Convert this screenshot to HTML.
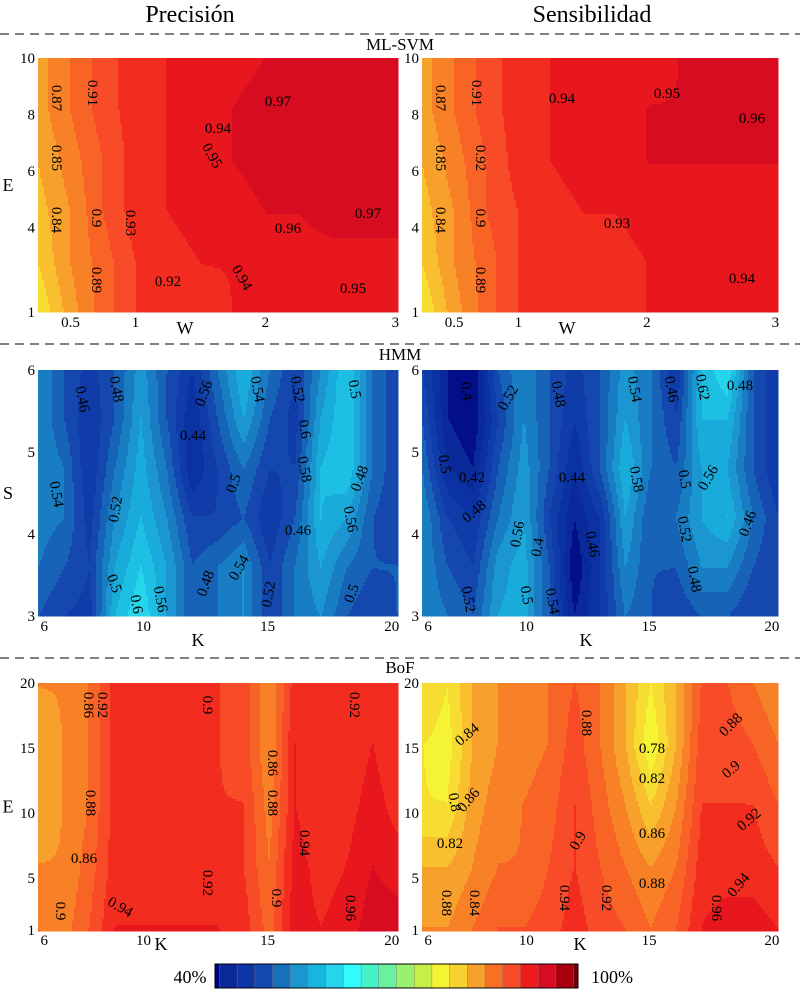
<!DOCTYPE html>
<html><head><meta charset="utf-8">
<style>
body{margin:0;background:#fff;}
svg{display:block;font-family:"Liberation Serif",serif;}
</style></head>
<body>
<svg id="fig" width="800" height="997" viewBox="0 0 800 997" xmlns="http://www.w3.org/2000/svg">
<text x="190" y="22" font-size="24" text-anchor="middle">Precisión</text>
<text x="592" y="22" font-size="24" text-anchor="middle">Sensibilidad</text>
<line x1="0" y1="34" x2="800" y2="34" stroke="#000" stroke-dasharray="9,6"/>
<text x="400" y="50" font-size="17" text-anchor="middle">ML-SVM</text>
<line x1="0" y1="344" x2="800" y2="344" stroke="#000" stroke-dasharray="9,6"/>
<text x="400" y="360" font-size="17" text-anchor="middle">HMM</text>
<line x1="0" y1="658" x2="800" y2="658" stroke="#000" stroke-dasharray="9,6"/>
<text x="400" y="673" font-size="17" text-anchor="middle">BoF</text>
<g id="panels"></g>
<g id="colorbar"></g>
</svg>
<script>
// ---- data grids (rows top->bottom, columns left->right) ----
const svmPrec = [
[0.85,0.88,0.91,0.93,0.94,0.94,0.95,0.96,0.97,0.97,0.96,0.96],
[0.85,0.88,0.91,0.93,0.94,0.95,0.96,0.97,0.97,0.97,0.97,0.97],
[0.84,0.87,0.90,0.93,0.94,0.95,0.96,0.97,0.97,0.97,0.97,0.97],
[0.83,0.86,0.90,0.93,0.94,0.95,0.95,0.96,0.96,0.97,0.97,0.97],
[0.82,0.86,0.89,0.92,0.93,0.94,0.94,0.95,0.95,0.95,0.95,0.95],
[0.80,0.85,0.89,0.92,0.92,0.93,0.94,0.94,0.95,0.95,0.95,0.95]];
const svmSens = [
[0.85,0.88,0.91,0.93,0.94,0.94,0.95,0.95,0.96,0.96,0.96,0.96],
[0.85,0.88,0.91,0.93,0.94,0.95,0.95,0.96,0.96,0.96,0.96,0.96],
[0.84,0.87,0.90,0.93,0.94,0.95,0.95,0.96,0.96,0.96,0.96,0.96],
[0.83,0.86,0.90,0.92,0.93,0.94,0.94,0.95,0.95,0.95,0.95,0.95],
[0.82,0.86,0.89,0.92,0.93,0.93,0.93,0.94,0.94,0.94,0.94,0.94],
[0.80,0.85,0.89,0.92,0.92,0.93,0.93,0.94,0.94,0.94,0.94,0.94]];
const hmmPrec = [
[0.54,0.50,0.47,0.50,0.55,0.50,0.46,0.52,0.58,0.52,0.48,0.54,0.60,0.52,0.48],
[0.54,0.50,0.46,0.50,0.56,0.50,0.44,0.50,0.56,0.50,0.47,0.56,0.60,0.52,0.48],
[0.54,0.52,0.46,0.52,0.57,0.52,0.44,0.48,0.52,0.48,0.48,0.58,0.60,0.52,0.48],
[0.53,0.52,0.47,0.54,0.58,0.54,0.48,0.48,0.50,0.46,0.50,0.58,0.56,0.50,0.48],
[0.52,0.50,0.48,0.56,0.60,0.56,0.50,0.52,0.54,0.48,0.52,0.56,0.52,0.50,0.50],
[0.50,0.48,0.47,0.58,0.62,0.56,0.50,0.52,0.54,0.48,0.52,0.54,0.50,0.48,0.50]];
const hmmSens = [
[0.48,0.42,0.40,0.50,0.54,0.50,0.47,0.50,0.55,0.52,0.46,0.58,0.62,0.50,0.46],
[0.50,0.42,0.40,0.48,0.54,0.50,0.46,0.50,0.56,0.52,0.48,0.58,0.58,0.50,0.46],
[0.52,0.44,0.42,0.50,0.55,0.50,0.44,0.50,0.58,0.52,0.50,0.56,0.56,0.50,0.46],
[0.54,0.48,0.46,0.52,0.56,0.48,0.42,0.46,0.56,0.50,0.52,0.56,0.58,0.52,0.48],
[0.54,0.50,0.48,0.55,0.57,0.50,0.40,0.46,0.54,0.50,0.50,0.54,0.54,0.50,0.48],
[0.54,0.52,0.50,0.56,0.57,0.50,0.42,0.46,0.52,0.50,0.48,0.50,0.50,0.48,0.48]];
const bofPrec = [
[0.86,0.86,0.88,0.93,0.92,0.92,0.92,0.92,0.91,0.86,0.93,0.92,0.92,0.93,0.92],
[0.85,0.86,0.88,0.93,0.92,0.92,0.92,0.92,0.91,0.86,0.94,0.92,0.92,0.94,0.92],
[0.85,0.86,0.88,0.93,0.92,0.92,0.92,0.92,0.92,0.87,0.94,0.92,0.93,0.95,0.93],
[0.86,0.86,0.89,0.93,0.93,0.93,0.93,0.93,0.92,0.88,0.95,0.93,0.94,0.96,0.95],
[0.88,0.87,0.90,0.94,0.94,0.94,0.94,0.94,0.93,0.89,0.95,0.94,0.95,0.97,0.97]];
const bofSens = [
[0.82,0.80,0.84,0.86,0.86,0.88,0.90,0.88,0.84,0.80,0.84,0.90,0.90,0.88,0.86],
[0.80,0.79,0.84,0.86,0.87,0.88,0.91,0.88,0.84,0.78,0.84,0.91,0.91,0.90,0.88],
[0.80,0.80,0.85,0.87,0.88,0.89,0.92,0.89,0.86,0.82,0.86,0.92,0.92,0.92,0.90],
[0.84,0.84,0.86,0.88,0.88,0.90,0.92,0.90,0.88,0.86,0.88,0.93,0.93,0.93,0.92],
[0.86,0.86,0.88,0.90,0.90,0.91,0.93,0.91,0.90,0.88,0.90,0.94,0.95,0.95,0.94]];
// tick labels
const svmXTicks = ["0.5","1","2","3"], svmXVals=[0.5,1,2,3];
const svmYTicks = ["10","8","6","4","1"], svmYVals=[10,8,6,4,1];
const hmmXTicks = ["6","10","15","20"], hmmXVals=[6,10,15,20];
const hmmYTicks = ["6","5","4","3"], hmmYVals=[6,5,4,3];
const bofXTicks = ["6","10","15","20"], bofXVals=[6,10,15,20];
const bofYTicks = ["20","15","10","5","1"], bofYVals=[20,15,10,5,1];
const cmap = ["#000080","#0a2a9a","#0c36a6","#1448ae","#1870bc","#1c96d0","#18b6de","#26d4ec","#30fcfc","#48f2c8","#6cf0a0","#9cf070","#c4f048","#f4f434","#f8d030","#f8a02c","#f87024","#f84c28","#f01c1c","#d80c20","#a8000c","#700010"];

const NS="http://www.w3.org/2000/svg";
function hex(h){return [1,3,5].map(i=>parseInt(h.substr(i,2),16));}
function colorAt(v){
  const t=Math.max(0,Math.min(20,(v-0.4)/0.03));
  const i=Math.min(19,Math.floor(t)),f=t-i;
  const a=hex(cmap[i]),b=hex(cmap[i+1]);
  return `rgb(${a.map((x,k)=>Math.round(x+(b[k]-x)*f)).join(',')})`;
}
function quant(v){const s=0.02;return Math.floor((v+0.0007)/s)*s+s/2;}
function mk(tag,attrs,parent){const e=document.createElementNS(NS,tag);for(const k in attrs)e.setAttribute(k,attrs[k]);parent.appendChild(e);return e;}
function interp(g,u,v){
  const R=g.length,C=g[0].length;
  const x=u*(C-1),y=v*(R-1);
  const i=Math.min(R-2,Math.floor(y)),j=Math.min(C-2,Math.floor(x));
  const fy=y-i,fx=x-j;
  return g[i][j]*(1-fx)*(1-fy)+g[i][j+1]*fx*(1-fy)+g[i+1][j]*(1-fx)*fy+g[i+1][j+1]*fx*fy;
}
const root=document.getElementById('panels');
function panel(name,x0,y0,w,h,grid,xr,yr,xt,xv,yt,yv,xlab,ylab,showY,labels){
  const g=mk('g',{},root);
  
  
  const step=2;
  for(let py=0;py<h;py+=step){
    let runStart=0,runCol=null;
    for(let px=0;px<=w;px+=step){
      let col=null;
      if(px<w) col=colorAt(quant(interp(grid,(px+1)/w,(py+1)/h)));
      if(col!==runCol){
        if(runCol!==null){
          const r=mk('rect',{x:x0+runStart,y:y0+py,width:px-runStart+0.5,height:step+0.5,fill:runCol},g);
          
          
        }
        runStart=px;runCol=col;
      }
    }
  }
  const sx=v=>x0+(v-xr[0])/(xr[1]-xr[0])*w;
  const sy=v=>y0+h-(v-yr[0])/(yr[1]-yr[0])*h;
  xt.forEach((t,i)=>{
    const e=mk('text',{x:sx(xv[i]),y:y0+h+15,'font-size':15,'text-anchor':'middle'},g);e.textContent=t;
    
    
  });
  yt.forEach((t,i)=>{
    const e=mk('text',{x:x0-3,y:sy(yv[i])+5,'font-size':15,'text-anchor':'end'},g);e.textContent=t;
    
    
  });
  const xl=mk('text',{x:x0+xlab[0],y:y0+h+xlab[1],'font-size':18,'text-anchor':'middle'},g);xl.textContent=xlab[2];
  
  
  if(showY){
    const yl=mk('text',{x:8,y:y0+h/2+6,'font-size':18,'text-anchor':'middle'},g);yl.textContent=ylab;
    
    
  }
  labels.forEach(l=>{
    const e=mk('text',{x:x0+l[1],y:y0+l[2],'font-size':15,'text-anchor':'middle',transform:`rotate(${l[3]||0} ${x0+l[1]} ${y0+l[2]})`},g);
    e.textContent=l[0];
    
    
  });
}
const L=38,Rx=422,W=360,Wr=356;
panel('svm-precision-plot',L,58,W,254,svmPrec,[0.25,3.02],[1,10],svmXTicks,svmXVals,svmYTicks,svmYVals,[147,22,'W'],'E',true,
 [["0.87",14,40,90],["0.91",50,35,90],["0.85",14,100,90],["0.84",14,162,90],["0.9",54,160,90],["0.93",88,165,90],["0.94",180,75,0],["0.97",240,48,0],["0.95",170,100,60],["0.96",250,175,0],["0.97",330,160,0],["0.89",54,222,90],["0.92",130,228,0],["0.94",200,222,60],["0.95",315,235,0]]);
panel('svm-sensitivity-plot',Rx,58,Wr,254,svmSens,[0.25,3.02],[1,10],svmXTicks,svmXVals,svmYTicks,svmYVals,[145,22,'W'],'E',false,
 [["0.87",14,40,90],["0.91",50,35,90],["0.85",14,100,90],["0.84",14,162,90],["0.92",54,100,90],["0.9",54,160,90],["0.94",140,45,0],["0.95",245,40,0],["0.96",330,65,0],["0.93",195,170,0],["0.94",320,225,0],["0.89",54,222,90]]);
panel('hmm-precision-plot',L,370,W,246,hmmPrec,[5.75,20.25],[3,6],hmmXTicks,hmmXVals,hmmYTicks,hmmYVals,[160,30,'K'],'S',true,
 [["0.46",40,30,80],["0.48",74,20,80],["0.56",170,25,-70],["0.54",215,20,80],["0.52",255,20,80],["0.5",312,20,80],["0.44",155,70,0],["0.54",14,125,80],["0.52",82,140,-80],["0.5",200,115,-70],["0.58",262,100,80],["0.6",262,60,80],["0.48",326,110,-70],["0.56",308,150,80],["0.46",260,165,0],["0.5",72,215,70],["0.6",94,235,80],["0.56",118,230,80],["0.48",172,215,-70],["0.54",205,200,-60],["0.52",235,225,-80],["0.5",318,225,-70]]);
panel('hmm-sensitivity-plot',Rx,370,Wr,246,hmmSens,[5.75,20.25],[3,6],hmmXTicks,hmmXVals,hmmYTicks,hmmYVals,[164,30,'K'],'S',false,
 [["0.4",40,22,80],["0.52",90,30,-60],["0.48",132,25,80],["0.54",208,20,80],["0.46",245,20,80],["0.62",276,18,80],["0.48",318,20,0],["0.5",18,95,80],["0.42",50,112,0],["0.44",150,112,0],["0.58",210,110,80],["0.5",258,110,80],["0.56",290,110,-60],["0.48",55,145,-40],["0.56",100,165,-80],["0.4",120,178,-80],["0.46",166,175,80],["0.52",258,160,80],["0.46",330,155,-70],["0.52",42,230,80],["0.5",100,226,80],["0.54",126,232,80],["0.48",268,210,80]]);
panel('bof-precision-plot',L,683,W,247,bofPrec,[5.75,20.25],[1,20],bofXTicks,bofXVals,bofYTicks,bofYVals,[123,20,'K'],'E',true,
 [["0.86",46,22,90],["0.92",60,22,90],["0.9",165,22,90],["0.86",230,80,90],["0.92",312,22,90],["0.88",48,120,90],["0.88",230,120,90],["0.94",262,160,90],["0.86",46,180,0],["0.92",165,200,90],["0.9",234,215,90],["0.96",308,225,90],["0.9",18,228,90],["0.94",80,228,30]]);
panel('bof-sensitivity-plot',Rx,683,Wr,247,bofSens,[5.75,20.25],[1,20],bofXTicks,bofXVals,bofYTicks,bofYVals,[158,20,'K'],'E',false,
 [["0.84",48,55,-40],["0.88",160,40,90],["0.88",312,45,-45],["0.78",230,70,0],["0.8",28,120,80],["0.86",50,120,-50],["0.82",230,100,0],["0.9",312,90,-40],["0.92",330,140,-40],["0.9",160,160,-60],["0.86",230,155,0],["0.82",28,165,0],["0.88",20,220,90],["0.84",48,220,90],["0.94",138,215,90],["0.92",180,215,90],["0.88",230,205,0],["0.96",290,225,90],["0.94",320,205,-50]]);
// colorbar
const cb=document.getElementById('colorbar');
const segW=363/20.5;
for(let i=0;i<cmap.length;i++){
  let x,w;
  if(i===0){x=215;w=segW*0.25;}
  else if(i===cmap.length-1){x=215+segW*0.25+20*segW;w=segW*0.25;}
  else {x=215+segW*0.25+(i-1)*segW;w=segW;}
  const r=mk('rect',{x:x,y:964,width:w+0.3,height:24,fill:cmap[i],stroke:'#777','stroke-width':0.4},cb);
  
  
}
mk('rect',{x:215,y:964,width:363,height:24,fill:'none',stroke:'#000','stroke-width':1},cb);
const t1=mk('text',{x:190,y:983,'font-size':18,'text-anchor':'middle'},cb);t1.textContent='40%';


const t2=mk('text',{x:612,y:983,'font-size':18,'text-anchor':'middle'},cb);t2.textContent='100%';


</script>
</body></html>
